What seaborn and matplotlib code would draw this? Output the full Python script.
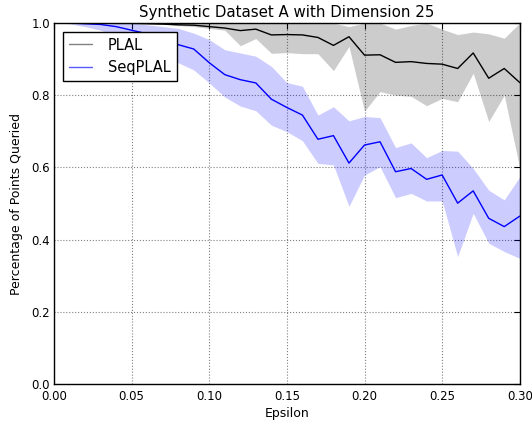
import numpy as np
import pandas as pd
import matplotlib
matplotlib.use("Agg")
import matplotlib.pyplot as plt
import seaborn as sns
from matplotlib.lines import Line2D

# values
epsilon = [0.00, 0.01, 0.02, 0.03, 0.04, 0.05, 0.06, 0.07, 0.08, 0.09, 0.10,
           0.11, 0.12, 0.13, 0.14, 0.15, 0.16, 0.17, 0.18, 0.19, 0.20,
           0.21, 0.22, 0.23, 0.24, 0.25, 0.26, 0.27, 0.28, 0.29, 0.30]

plal_mean = [1.0, 1.0, 1.0, 1.0, 0.999, 0.999, 0.998, 0.997, 0.995, 0.994, 0.99,
             0.986, 0.979, 0.983, 0.967, 0.968, 0.967, 0.96, 0.938, 0.962, 0.911,
             0.912, 0.891, 0.893, 0.888, 0.886, 0.874, 0.917, 0.847, 0.874, 0.835]
plal_upper = [1.0, 1.0, 1.0, 1.0, 1.0, 1.0, 1.0, 1.0, 1.0, 1.0, 1.0,
              1.0, 1.0, 1.0, 1.0, 1.0, 1.0, 1.0, 1.0, 0.99, 1.0,
              1.0, 0.983, 0.993, 1.0, 0.983, 0.968, 0.975, 0.97, 0.958, 1.0]
plal_lower = [0.999, 0.999, 0.999, 0.999, 0.999, 0.999, 0.998, 0.997, 0.993, 0.99, 0.985,
              0.98, 0.937, 0.957, 0.916, 0.918, 0.915, 0.915, 0.868, 0.935, 0.756,
              0.81, 0.80, 0.797, 0.771, 0.791, 0.782, 0.861, 0.727, 0.80, 0.598]

seq_mean = [1.0, 1.0, 0.998, 0.996, 0.99, 0.98, 0.97, 0.955, 0.94, 0.928, 0.89,
            0.857, 0.843, 0.834, 0.789, 0.766, 0.745, 0.678, 0.688, 0.612, 0.662,
            0.671, 0.588, 0.597, 0.567, 0.579, 0.501, 0.535, 0.459, 0.436, 0.465]
seq_upper = [1.0, 1.0, 1.0, 1.0, 1.0, 1.0, 0.995, 0.99, 0.985, 0.972, 0.954,
             0.926, 0.917, 0.908, 0.88, 0.835, 0.825, 0.745, 0.768, 0.729, 0.741,
             0.738, 0.655, 0.668, 0.627, 0.647, 0.645, 0.597, 0.537, 0.51, 0.574]
seq_lower = [1.0, 0.998, 0.99, 0.98, 0.965, 0.95, 0.935, 0.915, 0.89, 0.87, 0.834,
             0.795, 0.77, 0.757, 0.717, 0.699, 0.674, 0.611, 0.607, 0.492, 0.579,
             0.602, 0.516, 0.528, 0.507, 0.507, 0.353, 0.473, 0.39, 0.367, 0.348]

df = pd.DataFrame({"Epsilon": epsilon + epsilon,
                   "Queried": plal_mean + seq_mean,
                   "Method": ["PLAL"] * len(epsilon) + ["SeqPLAL"] * len(epsilon)})

sns.set_style("white")
plt.rcParams['font.family'] = ['DejaVu Sans']
plt.rcParams['text.color'] = 'black'
plt.rcParams['axes.labelcolor'] = 'black'
plt.rcParams['xtick.color'] = 'black'
plt.rcParams['ytick.color'] = 'black'

fig = plt.figure(figsize=(5.32, 4.23), dpi=100)
ax = fig.add_axes([0.1015, 0.0922, 0.8755, 0.8534])

# shaded bands first, then the mean lines on top
ax.fill_between(epsilon, plal_lower, plal_upper, color="black", alpha=0.2, lw=0)
ax.fill_between(epsilon, seq_lower, seq_upper, color="blue", alpha=0.2, lw=0)
sns.lineplot(data=df, x="Epsilon", y="Queried", hue="Method",
             palette={"PLAL": "black", "SeqPLAL": "blue"}, lw=1.0,
             legend=False, ax=ax)

ax.set_xlim(0, 0.30)
ax.set_ylim(0, 1.0)
ax.set_xticks([0.0, 0.05, 0.10, 0.15, 0.20, 0.25, 0.30])
ax.set_xticklabels(["0.00", "0.05", "0.10", "0.15", "0.20", "0.25", "0.30"])
ax.set_yticks([0.0, 0.2, 0.4, 0.6, 0.8, 1.0])
ax.set_yticklabels(["0.0", "0.2", "0.4", "0.6", "0.8", "1.0"])
ax.grid(True, linestyle=":", color="black", linewidth=0.8, alpha=0.5)
ax.tick_params(direction="in", labelsize=8.5, length=4, top=True, right=True)
ax.tick_params(axis="x", pad=4.5)
ax.tick_params(axis="y", pad=3)
for s in ax.spines.values():
    s.set_color("black")
    s.set_linewidth(1.0)

ax.set_title("Synthetic Dataset A with Dimension 25", fontsize=10.8, pad=4)
ax.set_xlabel("Epsilon", fontsize=9, labelpad=3)
ax.set_ylabel("Percentage of Points Queried", fontsize=9, labelpad=6)

handles = [Line2D([], [], color="gray", lw=1.0),
           Line2D([], [], color=(0.35, 0.35, 1.0), lw=1.0)]
leg = ax.legend(handles, ["PLAL", "SeqPLAL"], loc="upper left", fontsize=10.5,
                frameon=True, fancybox=False, framealpha=1.0,
                borderaxespad=0.6, handlelength=1.6, handletextpad=1.1)
leg.get_frame().set_edgecolor("black")
leg.get_frame().set_linewidth(1.0)

fig.savefig("out.png", dpi=100)
